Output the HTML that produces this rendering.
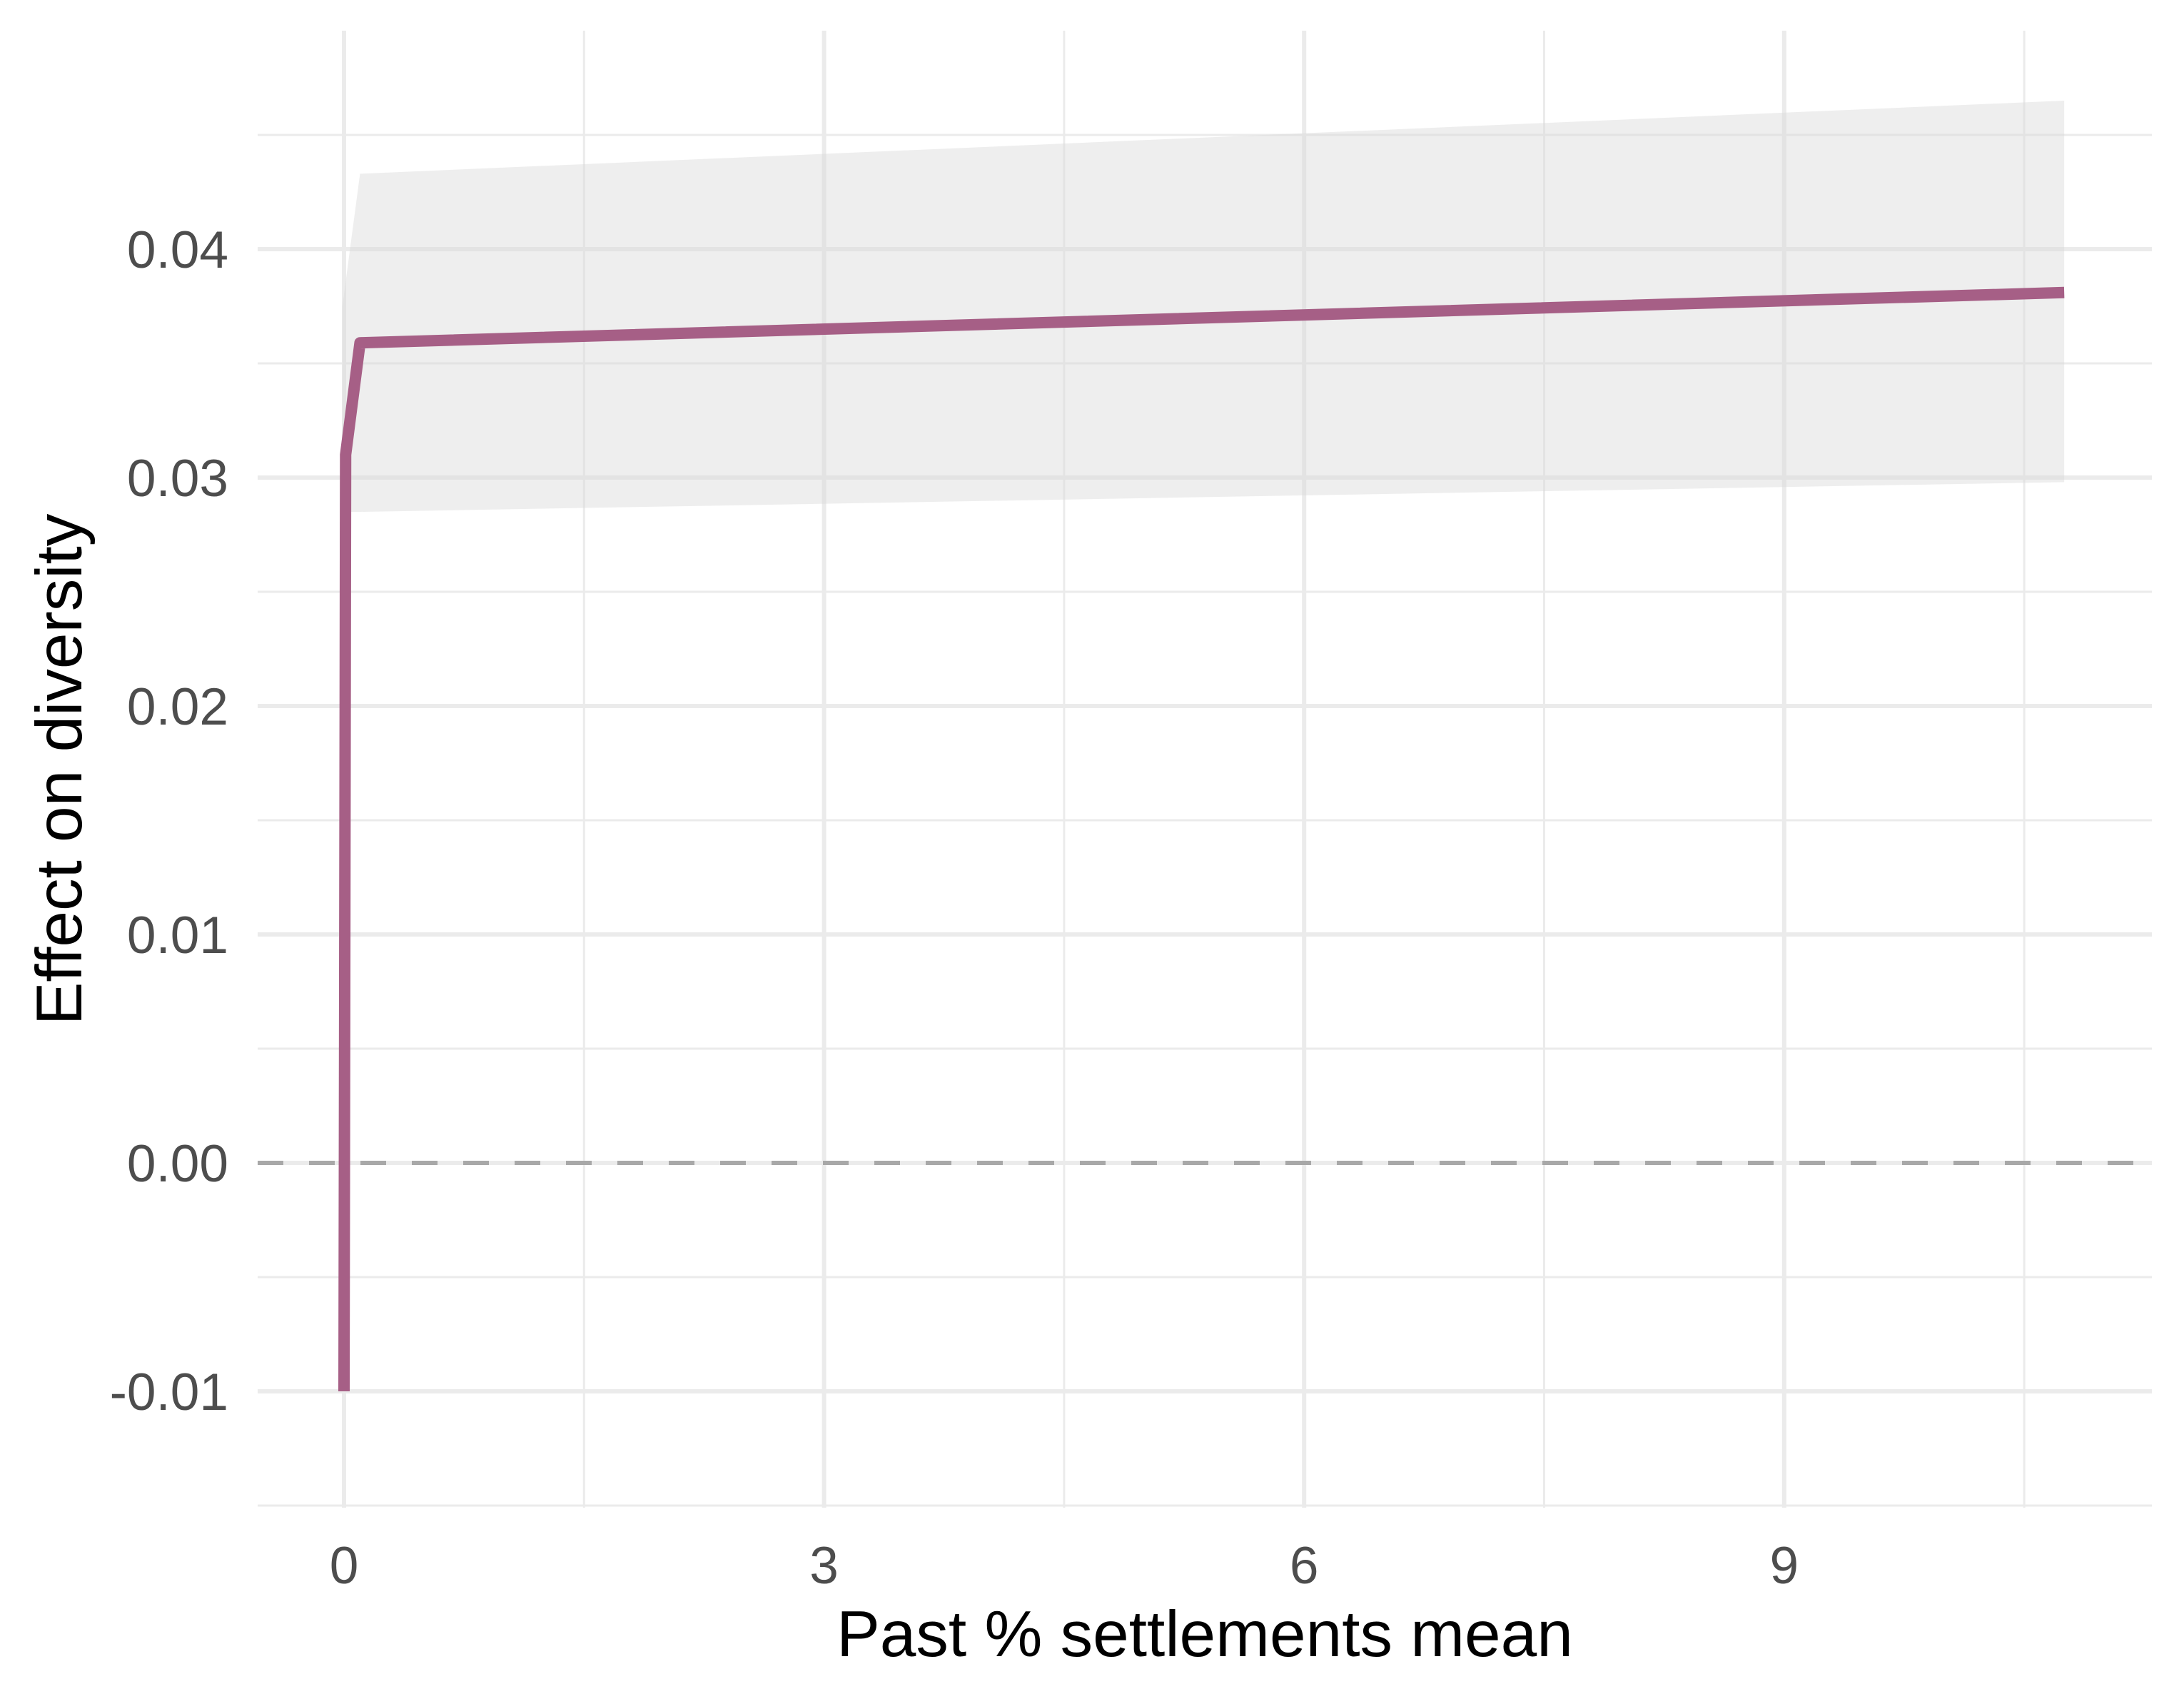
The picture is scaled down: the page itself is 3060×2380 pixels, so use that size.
<!DOCTYPE html>
<html><head><meta charset="utf-8"><style>
html,body{margin:0;padding:0;background:#fff;}
svg{display:block;font-family:"Liberation Sans",Arial,sans-serif;}
</style></head><body>
<svg id="chart" width="3060" height="2380" viewBox="0 0 3060 2380" xmlns="http://www.w3.org/2000/svg">
<g id="grid"></g>
<g id="ribbon-g"></g>
<g id="zero-g"></g>
<g id="line-g"></g>
<g id="ticks"></g>
<text x="1688" y="2320" font-size="91" text-anchor="middle" fill="#000">Past % settlements mean</text>
<text x="0" y="0" font-size="91" text-anchor="middle" fill="#000" transform="translate(114,1078) rotate(-90)">Effect on diversity</text>
</svg>
<script>
const xTicks = [0, 3, 6, 9];
const xMinor = [1.5, 4.5, 7.5, 10.5];
const yTicks = [-0.01, 0, 0.01, 0.02, 0.03, 0.04];
const yTickLabels = ["-0.01", "0.00", "0.01", "0.02", "0.03", "0.04"];
const yMinor = [-0.015, -0.005, 0.005, 0.015, 0.025, 0.035, 0.045];
const lineX = [0, 0.01, 0.1, 10.75];
const lineY = [-0.01, 0.031, 0.0359, 0.0381];
const bandX = [-0.01, 0.1, 10.75];
const bandUpper = [0.0375, 0.0433, 0.0465];
const bandLower = [0.0285, 0.0285, 0.0298];
const zeroLine = 0;

const PL = 361, PR = 3015, PT = 43, PB = 2112;
function sx(v){ return 482 + v * 224.2; }
function sy(v){ return 1629 - v * 32000; }
const NS = "http://www.w3.org/2000/svg";
function mk(tag, parent, attrs){
  const e = document.createElementNS(NS, tag);
  for (const k in attrs) e.setAttribute(k, attrs[k]);
  parent.appendChild(e);
  return e;
}
const grid = document.getElementById('grid');
yMinor.forEach(v => {
  const l = mk('line', grid, {x1:PL, x2:PR, y1:sy(v), y2:sy(v), stroke:'#ebebeb', 'stroke-width':3});
  
  
});
xMinor.forEach(v => {
  const l = mk('line', grid, {x1:sx(v), x2:sx(v), y1:PT, y2:PB, stroke:'#ebebeb', 'stroke-width':3});
  
  
});
yTicks.forEach(v => {
  const l = mk('line', grid, {x1:PL, x2:PR, y1:sy(v), y2:sy(v), stroke:'#ebebeb', 'stroke-width':6});
  
  
});
xTicks.forEach(v => {
  const l = mk('line', grid, {x1:sx(v), x2:sx(v), y1:PT, y2:PB, stroke:'#ebebeb', 'stroke-width':6});
  
  
});
let pts = [];
for (let i = 0; i < bandX.length; i++) pts.push(sx(bandX[i]) + ',' + sy(bandUpper[i]));
for (let i = bandX.length - 1; i >= 0; i--) pts.push(sx(bandX[i]) + ',' + sy(bandLower[i]));
const rib = mk('polygon', document.getElementById('ribbon-g'), {points: pts.join(' '), fill:'#d9d9d9', 'fill-opacity':0.45});


const z = mk('line', document.getElementById('zero-g'), {x1:PL, x2:PR, y1:sy(zeroLine), y2:sy(zeroLine), stroke:'#a8a8a8', 'stroke-width':6, 'stroke-dasharray':'36 36'});


const lp = lineX.map((x, i) => sx(x) + ',' + sy(lineY[i])).join(' ');
const pl = mk('polyline', document.getElementById('line-g'), {points: lp, fill:'none', stroke:'#a65f86', 'stroke-width':16, 'stroke-linejoin':'round'});


const tk = document.getElementById('ticks');
yTicks.forEach((v, i) => {
  const t = mk('text', tk, {x:320, y:sy(v) + 26, 'font-size':73, 'text-anchor':'end', fill:'#4d4d4d'});
  t.textContent = yTickLabels[i];
  
  
});
xTicks.forEach(v => {
  const t = mk('text', tk, {x:sx(v), y:2218, 'font-size':73, 'text-anchor':'middle', fill:'#4d4d4d'});
  t.textContent = String(v);
  
  
});
</script>
</body></html>
